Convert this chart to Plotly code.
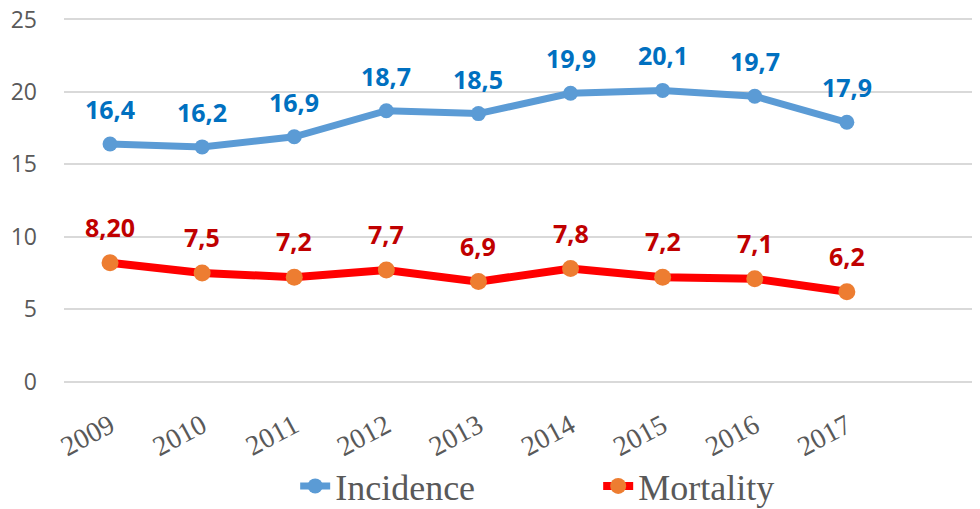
import plotly.graph_objects as go

years = ["2009", "2010", "2011", "2012", "2013", "2014", "2015", "2016", "2017"]
incidence = [16.4, 16.2, 16.9, 18.7, 18.5, 19.9, 20.1, 19.7, 17.9]
mortality = [8.20, 7.5, 7.2, 7.7, 6.9, 7.8, 7.2, 7.1, 6.2]
incidence_labels = ["16,4", "16,2", "16,9", "18,7", "18,5", "19,9", "20,1", "19,7", "17,9"]
mortality_labels = ["8,20", "7,5", "7,2", "7,7", "6,9", "7,8", "7,2", "7,1", "6,2"]
y_ticks = [0, 5, 10, 15, 20, 25]

fig = go.Figure()
fig.add_trace(go.Scatter(
    x=years, y=incidence, name="Incidence", mode="lines+markers",
    line=dict(color="#5b9bd5", width=7),
    marker=dict(color="#5b9bd5", size=15),
))
fig.add_trace(go.Scatter(
    x=years, y=mortality, name="Mortality", mode="lines+markers",
    line=dict(color="#ff0000", width=8),
    marker=dict(color="#ed7d31", size=17),
))

for i, (yv, t) in enumerate(zip(incidence, incidence_labels)):
    fig.add_annotation(x=i, y=yv, text=t, showarrow=False, yshift=35,
                       font=dict(family="Open Sans", size=25, color="#0070c0", weight="bold"))
for i, (yv, t) in enumerate(zip(mortality, mortality_labels)):
    fig.add_annotation(x=i, y=yv, text=t, showarrow=False, yshift=36,
                       font=dict(family="Open Sans", size=25, color="#c00000", weight="bold"))

fig.update_layout(
    width=980, height=509,
    margin=dict(l=56, r=3, t=10, b=133),
    paper_bgcolor="white", plot_bgcolor="white",
    showlegend=True,
    legend=dict(orientation="h", x=0.58, xanchor="center", y=-0.3607, yanchor="bottom",
                font=dict(family="Liberation Serif", size=36, color="#595959"),
                entrywidth=258, itemwidth=30),
    xaxis=dict(type="category", range=[-0.5, 9.5], showgrid=False, zeroline=False,
               showline=False, tickangle=-28, automargin=False,
               tickfont=dict(family="Liberation Serif", size=28, color="#595959"),
               ticks="", ticklabelstandoff=20),
    yaxis=dict(range=[-0.1, 25.1], tickvals=y_ticks, showgrid=True, gridcolor="#d9d9d9",
               gridwidth=2, zeroline=False, showline=False, automargin=False,
               ticklabeloverflow="allow",
               tickfont=dict(family="Open Sans", size=23, color="#595959"),
               ticks="", ticklabelstandoff=26),
)

fig.write_html("out.html")
